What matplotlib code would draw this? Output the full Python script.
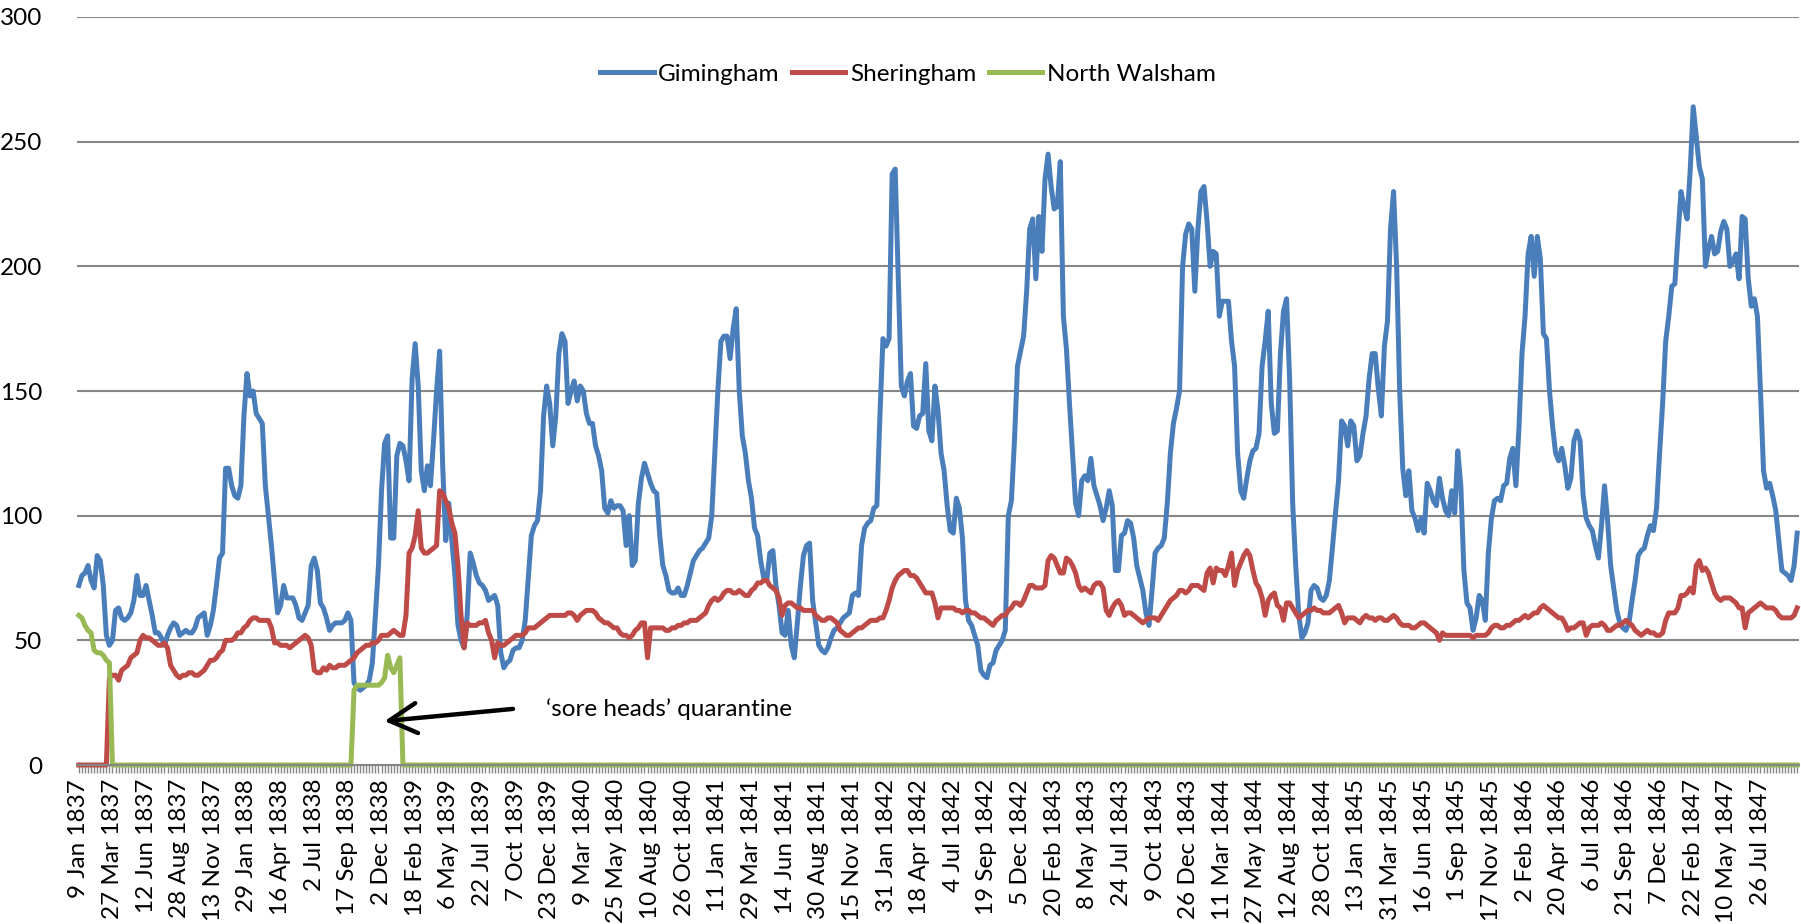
import matplotlib
matplotlib.use("Agg")
import matplotlib.pyplot as plt
import numpy as np

# Weekly series, 9 Jan 1837 onwards (one value per week)
tick_labels = [
    "9 Jan 1837", "27 Mar 1837", "12 Jun 1837", "28 Aug 1837", "13 Nov 1837",
    "29 Jan 1838", "16 Apr 1838", "2 Jul 1838", "17 Sep 1838", "2 Dec 1838",
    "18 Feb 1839", "6 May 1839", "22 Jul 1839", "7 Oct 1839", "23 Dec 1839",
    "9 Mar 1840", "25 May 1840", "10 Aug 1840", "26 Oct 1840", "11 Jan 1841",
    "29 Mar 1841", "14 Jun 1841", "30 Aug 1841", "15 Nov 1841", "31 Jan 1842",
    "18 Apr 1842", "4 Jul 1842", "19 Sep 1842", "5 Dec 1842", "20 Feb 1843",
    "8 May 1843", "24 Jul 1843", "9 Oct 1843", "26 Dec 1843", "11 Mar 1844",
    "27 May 1844", "12 Aug 1844", "28 Oct 1844", "13 Jan 1845", "31 Mar 1845",
    "16 Jun 1845", "1 Sep 1845", "17 Nov 1845", "2 Feb 1846", "20 Apr 1846",
    "6 Jul 1846", "21 Sep 1846", "7 Dec 1846", "22 Feb 1847", "10 May 1847",
    "26 Jul 1847",
]

gimingham = [
    72, 76, 77, 80, 74, 71, 84, 82, 72, 52,
    48, 50, 62, 63, 59, 58, 59, 61, 66, 76,
    68, 68, 72, 66, 60, 53, 53, 51, 48, 52,
    55, 57, 56, 52, 53, 54, 53, 53, 55, 59,
    60, 61, 52, 56, 62, 72, 83, 85, 119, 119,
    112, 108, 107, 112, 140, 157, 148, 150, 141, 139,
    137, 112, 100, 88, 74, 61, 64, 72, 67, 67,
    67, 64, 59, 58, 61, 64, 80, 83, 78, 65,
    63, 59, 54, 56, 57, 57, 57, 58, 61, 58,
    33, 31, 30, 31, 32, 34, 41, 60, 80, 110,
    129, 132, 91, 91, 124, 129, 128, 122, 114, 155,
    169, 152, 118, 110, 120, 112, 130, 150, 166, 120,
    90, 105, 90, 76, 56, 50, 47, 60, 85, 81,
    76, 73, 72, 70, 66, 67, 68, 64, 45, 39,
    41, 42, 46, 47, 47, 50, 58, 75, 92, 96,
    98, 110, 140, 152, 145, 128, 140, 165, 173, 170,
    145, 150, 154, 146, 152, 150, 141, 137, 137, 128,
    124, 118, 103, 101, 106, 103, 104, 104, 102, 88,
    100, 80, 82, 105, 115, 121, 117, 113, 110, 109,
    92, 80, 76, 70, 69, 69, 71, 68, 68, 72,
    77, 82, 84, 86, 87, 89, 91, 100, 125, 150,
    170, 172, 172, 163, 175, 183, 150, 132, 125, 114,
    107, 95, 92, 82, 75, 74, 85, 86, 72, 64,
    53, 52, 62, 48, 43, 57, 72, 84, 88, 89,
    66, 57, 48, 46, 45, 47, 51, 54, 55, 57,
    59, 60, 61, 68, 69, 68, 88, 95, 97, 98,
    103, 104, 140, 171, 168, 171, 237, 239, 195, 152,
    148, 154, 157, 136, 135, 140, 141, 161, 134, 130,
    152, 142, 125, 118, 104, 94, 93, 107, 103, 91,
    66, 58, 56, 52, 48, 38, 36, 35, 40, 41,
    46, 48, 50, 54, 100, 106, 130, 160, 166, 172,
    190, 215, 219, 195, 220, 206, 235, 245, 232, 223,
    224, 242, 180, 167, 145, 125, 105, 100, 114, 116,
    114, 123, 112, 108, 104, 98, 103, 110, 104, 78,
    78, 92, 93, 98, 97, 91, 80, 75, 70, 61,
    56, 70, 85, 87, 88, 91, 105, 125, 137, 143,
    150, 200, 213, 217, 215, 190, 215, 230, 232, 218,
    200, 206, 205, 180, 186, 186, 186, 170, 160, 125,
    110, 107, 115, 122, 126, 127, 133, 160, 170, 182,
    145, 133, 134, 165, 182, 187, 155, 105, 80, 60,
    51, 53, 57, 70, 72, 71, 67, 66, 68, 74,
    87, 101, 114, 138, 136, 128, 138, 136, 122, 124,
    133, 140, 155, 165, 165, 151, 140, 168, 178, 215,
    230, 200, 150, 119, 108, 118, 102, 99, 94, 99,
    93, 113, 110, 106, 104, 115, 107, 102, 100, 110,
    101, 126, 112, 78, 65, 63, 54, 59, 68, 66,
    58, 85, 99, 106, 107, 106, 112, 113, 123, 127,
    112, 135, 165, 180, 205, 212, 196, 212, 203, 173,
    171, 150, 136, 125, 122, 127, 120, 111, 115, 130,
    134, 130, 108, 99, 96, 94, 88, 83, 96, 112,
    98, 80, 71, 62, 57, 55, 54, 57, 66, 74,
    84, 86, 87, 92, 96, 94, 103, 125, 145, 170,
    180, 192, 193, 212, 230, 224, 219, 238, 264, 252,
    240, 235, 200, 207, 212, 205, 206, 214, 218, 215,
    200, 202, 205, 195, 220, 219, 195, 184, 187, 180,
    150, 118, 111, 113, 108, 102, 90, 78, 77, 76,
    74, 80, 93,
]

sheringham = [
    0, 0, 0, 0, 0, 0, 0, 0, 0, 0,
    35, 36, 36, 34, 38, 39, 40, 43, 44, 45,
    50, 52, 51, 51, 50, 49, 48, 48, 49, 47,
    40, 38, 36, 35, 36, 36, 37, 37, 36, 36,
    37, 38, 40, 42, 42, 43, 45, 46, 50, 50,
    50, 51, 53, 53, 55, 56, 58, 59, 59, 58,
    58, 58, 58, 55, 49, 49, 48, 48, 48, 47,
    48, 49, 50, 51, 52, 51, 48, 38, 37, 37,
    39, 38, 40, 39, 39, 40, 40, 40, 41, 42,
    43, 45, 46, 47, 48, 48, 49, 49, 50, 52,
    52, 52, 53, 54, 53, 52, 52, 60, 85, 87,
    92, 102, 87, 85, 85, 86, 87, 88, 110, 109,
    106, 103, 97, 93, 80, 60, 47, 57, 56, 56,
    56, 57, 57, 58, 53, 50, 43, 49, 48, 48,
    49, 50, 51, 52, 52, 52, 53, 55, 55, 55,
    56, 57, 58, 59, 60, 60, 60, 60, 60, 60,
    61, 61, 60, 58, 60, 61, 62, 62, 62, 61,
    59, 58, 57, 57, 56, 55, 55, 53, 52, 52,
    51, 52, 54, 55, 57, 57, 43, 55, 55, 55,
    55, 55, 54, 54, 55, 55, 56, 56, 57, 57,
    58, 58, 58, 59, 60, 61, 64, 66, 67, 66,
    67, 69, 70, 70, 69, 69, 70, 69, 68, 68,
    70, 71, 73, 73, 74, 74, 72, 71, 70, 67,
    60, 64, 65, 65, 64, 63, 63, 62, 62, 62,
    62, 60, 59, 58, 58, 59, 59, 58, 57, 54,
    53, 52, 52, 53, 54, 55, 55, 56, 57, 58,
    58, 58, 59, 59, 62, 66, 71, 74, 76, 77,
    78, 78, 76, 76, 75, 73, 71, 69, 69, 69,
    65, 59, 63, 63, 63, 63, 63, 62, 62, 61,
    62, 62, 61, 61, 60, 59, 59, 58, 57, 56,
    58, 59, 60, 60, 62, 63, 65, 65, 64, 66,
    69, 72, 72, 71, 71, 71, 72, 82, 84, 83,
    80, 77, 77, 83, 82, 80, 77, 72, 70, 71,
    70, 69, 72, 73, 73, 71, 62, 60, 63, 65,
    66, 64, 60, 61, 61, 60, 59, 58, 57, 58,
    59, 59, 59, 58, 60, 62, 64, 66, 67, 68,
    70, 70, 69, 70, 72, 72, 72, 71, 70, 77,
    79, 73, 79, 78, 78, 76, 80, 85, 72, 78,
    81, 84, 86, 84, 78, 73, 71, 67, 60, 66,
    68, 69, 64, 63, 58, 65, 65, 63, 61, 59,
    60, 61, 62, 62, 63, 62, 62, 61, 61, 61,
    62, 63, 64, 61, 57, 59, 59, 59, 58, 57,
    59, 60, 59, 59, 58, 59, 59, 58, 58, 59,
    60, 59, 57, 56, 56, 56, 55, 55, 56, 57,
    57, 56, 55, 54, 53, 50, 53, 52, 52, 52,
    52, 52, 52, 52, 52, 52, 51, 52, 52, 52,
    52, 53, 55, 56, 56, 55, 55, 56, 56, 57,
    58, 58, 59, 60, 59, 60, 61, 61, 63, 64,
    63, 62, 61, 60, 59, 59, 57, 54, 55, 55,
    56, 57, 57, 52, 55, 56, 56, 56, 57, 56,
    54, 54, 55, 56, 56, 57, 58, 57, 56, 54,
    53, 52, 53, 54, 53, 53, 52, 52, 53, 58,
    61, 61, 61, 63, 68, 68, 69, 71, 69, 80,
    82, 78, 79, 77, 73, 69, 67, 66, 67, 67,
    67, 66, 65, 63, 63, 55, 61, 62, 63, 64,
    65, 64, 63, 63, 63, 62, 60, 59, 59, 59,
    59, 60, 63,
]

# North Walsham: nothing recorded outside the two early stretches
north_walsham = ([60, 59, 56, 54, 53, 46, 45, 45, 44, 42, 41]
                 + [0] * 79
                 + [30, 32, 32, 32, 32, 32, 32, 32, 32, 33, 35, 44, 39, 37, 40, 43]
                 + [0] * 457)

plt.rcParams['font.family'] = ['Lato', 'DejaVu Sans']

W, H = 1801, 924
fig = plt.figure(figsize=(W / 100, H / 100), dpi=100)
ax = fig.add_axes([77 / W, 1 - 765 / H, (1799 - 77) / W, (765 - 17) / H])

weeks = np.arange(len(gimingham))
ax.plot(weeks, gimingham, color='#4A7EBB', lw=3.6, label='Gimingham', clip_on=False)
ax.plot(weeks, sheringham, color='#BE4B48', lw=3.6, label='Sheringham', clip_on=False)
ax.plot(weeks, north_walsham, color='#98B954', lw=3.6, label='North Walsham', clip_on=False)

ax.set_xlim(-0.6, len(weeks) - 1 + 0.6)
ax.set_ylim(0, 300)
ax.set_yticks(range(0, 301, 50))
ax.yaxis.grid(True, color='#868686', lw=1.5)
ax.set_axisbelow(True)
for s in ['left', 'right', 'top']:
    ax.spines[s].set_visible(False)
ax.spines['bottom'].set_color('#868686')
ax.spines['bottom'].set_linewidth(1.5)

ax.set_xticks(weeks, minor=True)
ax.set_xticks(weeks[:len(tick_labels) * 11:11])
ax.set_xticklabels(tick_labels, rotation=90, fontsize=17.5)
ax.tick_params(axis='x', which='both', length=6, width=1, color='#868686', pad=4)
ax.tick_params(axis='y', length=0, pad=25, labelsize=17.5)

fig.legend(loc='center', bbox_to_anchor=(908 / W, 1 - 74 / H), ncol=3, frameon=False,
           fontsize=17.5, handlelength=2.2, handletextpad=0.2, columnspacing=0.5)

# quarantine note
ax.annotate('', xy=(100, 17.6), xytext=(142, 22.5),
            arrowprops=dict(arrowstyle='->, head_length=0.55, head_width=0.3',
                            color='black', lw=3.2, mutation_scale=36,
                            shrinkA=0, shrinkB=0))
ax.text(152.8, 22.5, '\u2018sore heads\u2019 quarantine', va='center', ha='left', fontsize=17.5)

plt.savefig('out.png', dpi=100)
